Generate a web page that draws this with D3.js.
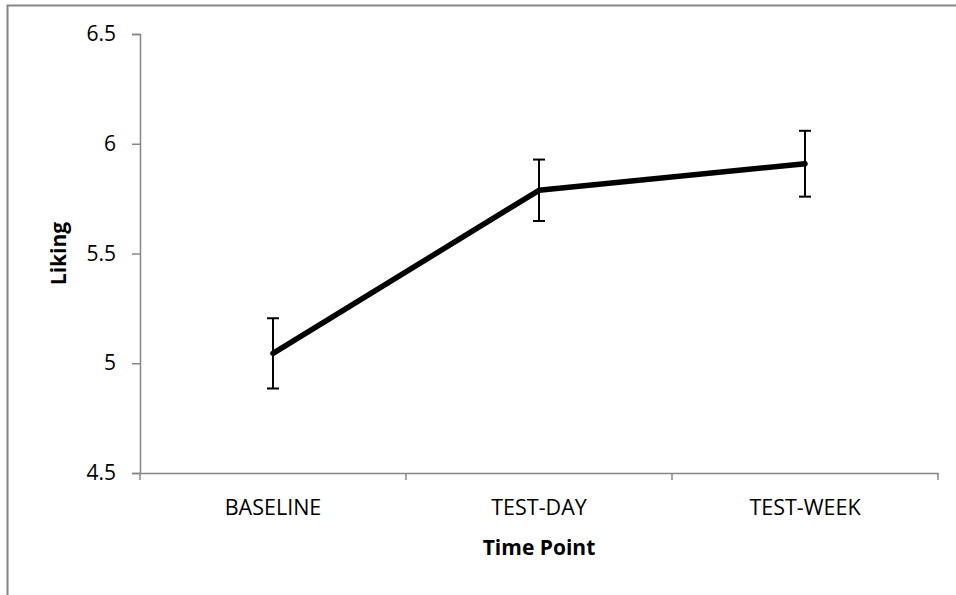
<!DOCTYPE html>
<html>
<head>
<meta charset="utf-8">
<script src="https://cdn.jsdelivr.net/npm/d3@7"></script>
<style>
  body { margin: 0; background: #fff; }
  text { font-family: "Open Sans", Lato, sans-serif; fill: #000; }
</style>
</head>
<body>
<div id="chart"></div>
<script>
// data
const timePoints = ["BASELINE", "TEST-DAY", "TEST-WEEK"];
const liking = [5.045, 5.788, 5.909];
const likingErr = [0.16, 0.14, 0.15];
const yTicks = [4.5, 5, 5.5, 6, 6.5];

const W = 956, H = 595;
const margin = {top: 34, right: 18, bottom: 122, left: 140};
const width = W - margin.left - margin.right,
    height = H - margin.top - margin.bottom;

const svg = d3.select("#chart")
    .append("svg")
    .attr("width", W)
    .attr("height", H);

// outer frame (open at the bottom and right like the picture crop)
svg.append("path")
    .attr("d", `M7.5,${H} V5.5 H${W}`)
    .attr("fill", "none")
    .attr("stroke", "#868686")
    .attr("stroke-width", 2);

const g = svg.append("g")
    .attr("transform", `translate(${margin.left},${margin.top})`);

const x = d3.scaleBand()
    .domain(timePoints)
    .range([0, width]);

const y = d3.scaleLinear()
    .domain([4.5, 6.5])
    .range([height, 0]);

// y axis
const yAxis = g.append("g")
    .call(d3.axisLeft(y).tickValues(yTicks).tickFormat(d3.format("")).tickSize(8).tickPadding(16));
yAxis.select(".domain").attr("stroke", "#868686").attr("stroke-width", 1.5);
yAxis.selectAll(".tick line").attr("stroke", "#868686").attr("stroke-width", 1.5);
yAxis.selectAll("text").attr("font-size", 21).style("fill", "#000");

// x axis, ticks between categories
const xAxis = g.append("g")
    .attr("transform", `translate(0,${height})`)
    .call(d3.axisBottom(x).tickSize(0).tickSizeOuter(0).tickPadding(27));
xAxis.select(".domain").attr("stroke", "#868686").attr("stroke-width", 1.5);
xAxis.selectAll("text").attr("font-size", 21.5).style("fill", "#000");

const edges = [0].concat(timePoints.map(d => x(d) + x.bandwidth()));
xAxis.selectAll(".edge")
    .data(edges)
    .join("line")
    .attr("x1", d => d).attr("x2", d => d)
    .attr("y1", 0).attr("y2", 7)
    .attr("stroke", "#868686")
    .attr("stroke-width", 1.5);

const cx = d => x(d) + x.bandwidth() / 2;

// line
g.append("path")
    .datum(timePoints)
    .attr("fill", "none")
    .attr("stroke", "#000")
    .attr("stroke-width", 5.5)
    .attr("stroke-linejoin", "round")
    .attr("stroke-linecap", "round")
    .attr("d", d3.line().x(d => cx(d)).y((d, i) => y(liking[i])));

// error bars
const err = g.selectAll(".err")
    .data(timePoints)
    .join("g");
err.append("line")
    .attr("x1", d => cx(d)).attr("x2", d => cx(d))
    .attr("y1", (d, i) => y(liking[i] + likingErr[i]))
    .attr("y2", (d, i) => y(liking[i] - likingErr[i]))
    .attr("stroke", "#000").attr("stroke-width", 2);
err.append("line")
    .attr("x1", d => cx(d) - 6).attr("x2", d => cx(d) + 6)
    .attr("y1", (d, i) => y(liking[i] + likingErr[i]))
    .attr("y2", (d, i) => y(liking[i] + likingErr[i]))
    .attr("stroke", "#000").attr("stroke-width", 2);
err.append("line")
    .attr("x1", d => cx(d) - 6).attr("x2", d => cx(d) + 6)
    .attr("y1", (d, i) => y(liking[i] - likingErr[i]))
    .attr("y2", (d, i) => y(liking[i] - likingErr[i]))
    .attr("stroke", "#000").attr("stroke-width", 2);

// axis titles
g.append("text")
    .attr("text-anchor", "middle")
    .attr("x", width / 2)
    .attr("y", height + 82)
    .attr("font-size", 21)
    .attr("font-weight", "bold")
    .text("Time Point");

g.append("text")
    .attr("text-anchor", "middle")
    .attr("transform", "rotate(-90)")
    .attr("x", -(y(5.5)))
    .attr("y", -74)
    .attr("font-size", 21)
    .attr("font-weight", "bold")
    .text("Liking");
</script>
</body>
</html>
